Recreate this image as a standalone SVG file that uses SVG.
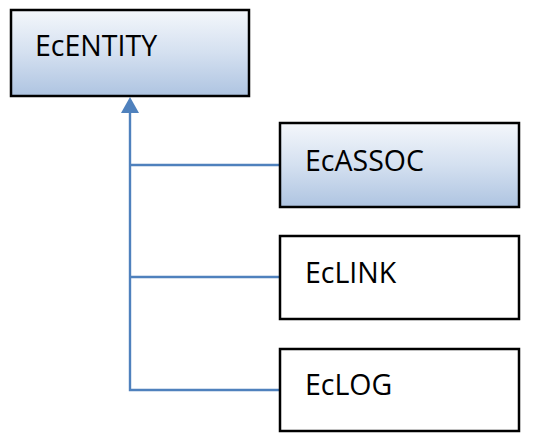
<svg xmlns="http://www.w3.org/2000/svg" width="533" height="448" viewBox="0 0 533 448">
<style>
.box{stroke:#000;stroke-width:2.5}
.plain{fill:#fff}
.grad{fill:url(#g)}
.lbl{font-family:"Open Sans","Liberation Sans",sans-serif;font-size:28.5px;fill:#000}
.conn{stroke:#4f81bd;stroke-width:2.4;fill:none}
</style>
<defs>
<linearGradient id="g" x1="0" y1="0" x2="0" y2="1">
<stop offset="0" stop-color="#f4f7fb"/>
<stop offset="0.5" stop-color="#d4e0f0"/>
<stop offset="1" stop-color="#aec4e1"/>
</linearGradient>
</defs>
<rect width="533" height="448" fill="#fff"/>
<g id="connectors">
<path class="conn" d="M130,112 V390 H280 M130,165 H280 M130,277 H280"/>
<polygon points="130,97 121,113 139,113" fill="#4f81bd"/>
</g>
<g id="EcENTITY">
<rect class="box grad" x="11" y="10" width="238" height="86"/>
<text class="lbl" x="35" y="56">EcENTITY</text>
</g>
<g id="EcASSOC">
<rect class="box grad" x="280" y="123" width="239" height="84"/>
<text class="lbl" x="305" y="171">EcASSOC</text>
</g>
<g id="EcLINK">
<rect class="box plain" x="280" y="236" width="239" height="83"/>
<text class="lbl" x="305" y="283">EcLINK</text>
</g>
<g id="EcLOG">
<rect class="box plain" x="280" y="349" width="239" height="82"/>
<text class="lbl" x="305" y="395">EcLOG</text>
</g>
</svg>
